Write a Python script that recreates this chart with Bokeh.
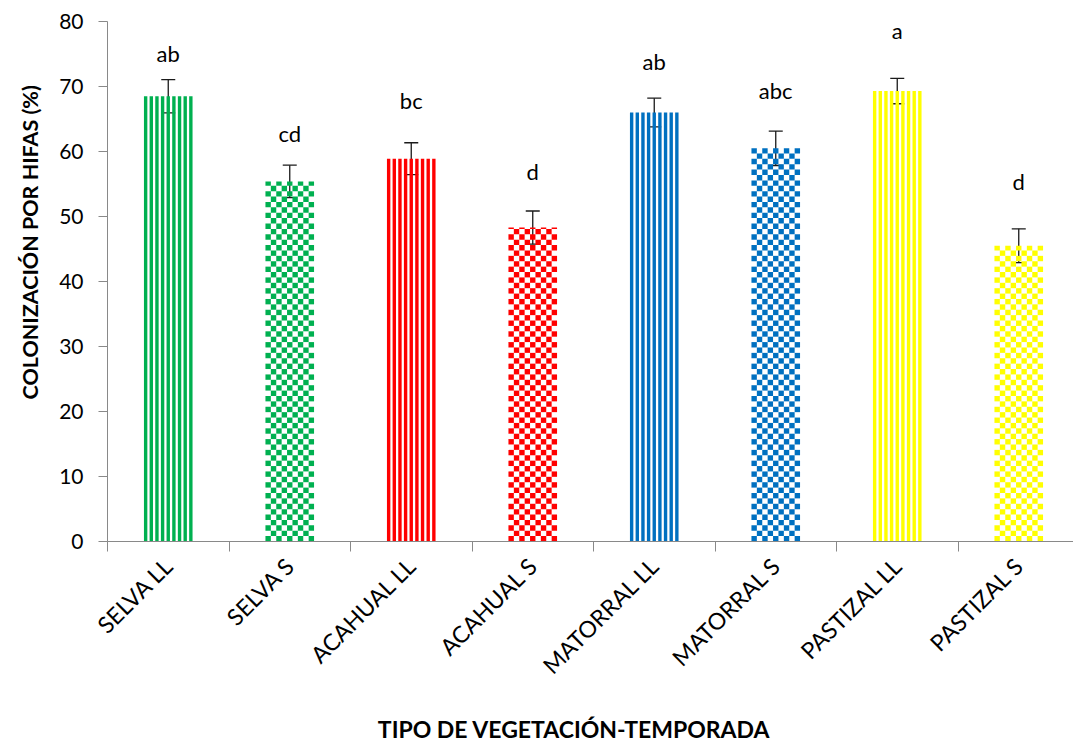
import math
import numpy as np
from bokeh.plotting import figure
from bokeh.models import Range1d, FixedTicker, Whisker, TeeHead, ColumnDataSource, Title
from bokeh.embed import file_html
from bokeh.resources import INLINE
from bokeh.core.properties import value

categories = ["SELVA LL", "SELVA S", "ACAHUAL LL", "ACAHUAL S",
              "MATORRAL LL", "MATORRAL S", "PASTIZAL LL", "PASTIZAL S"]
means = [68.5, 55.4, 58.9, 48.3, 66.0, 60.5, 69.3, 45.5]
errors = [2.55, 2.5, 2.45, 2.55, 2.2, 2.65, 1.95, 2.6]
letters = ["ab", "cd", "bc", "d", "ab", "abc", "a", "d"]
letter_y = [73.4, 61.1, 66.2, 55.3, 72.2, 67.7, 76.9, 53.7]
colors = ["#00B050", "#00B050", "#FF0000", "#FF0000",
          "#0070C0", "#0070C0", "#FFFF00", "#FFFF00"]
patterns = ["stripes", "checker", "stripes", "checker",
            "stripes", "checker", "stripes", "checker"]
y_ticks = [0, 10, 20, 30, 40, 50, 60, 70, 80]

FONT = "Lato"
W_FIG, H_FIG = 1073, 745
LEFT, TOP, BOTTOM = 107, 21, 203
cat_px = 121.5
frame_w = W_FIG - LEFT
frame_h = H_FIG - TOP - BOTTOM
x_end = frame_w / cat_px

p = figure(width=W_FIG, height=H_FIG, output_backend="svg", toolbar_location=None,
           x_range=Range1d(0, x_end), y_range=Range1d(0, 80),
           min_border_left=LEFT, min_border_right=0, min_border_top=TOP,
           min_border_bottom=BOTTOM)
p.outline_line_color = None
p.grid.visible = False

bar_w = 0.4
xc = np.arange(len(categories)) + 0.5
px_per_unit_y = frame_h / 80.0

# bar pattern cells
L, R, B, T, C = [], [], [], [], []
for i, (m, col, pat) in enumerate(zip(means, colors, patterns)):
    x0 = xc[i] - bar_w / 2
    if pat == "stripes":
        n = 9
        a = bar_w * 3.3 / 47.3
        per = (bar_w - a) / (n - 1)
        for k in range(n):
            L.append(x0 + k * per); R.append(x0 + k * per + a)
            B.append(0); T.append(m); C.append(col)
    else:
        nc = 9
        cw = bar_w / nc
        ch = cw * cat_px / px_per_unit_y
        nr = int(math.ceil(m / ch))
        for r in range(nr):
            for c in range(nc):
                if (r + c) % 2 == 0:
                    L.append(x0 + c * cw); R.append(x0 + (c + 1) * cw)
                    B.append(r * ch); T.append(min((r + 1) * ch, m)); C.append(col)

p.quad(left=L, right=R, bottom=B, top=T, fill_color=C, line_color=None)

# baseline correction for the SVG text rendering (pixels -> data units)
baseline_fix = 11.0 / px_per_unit_y
src = ColumnDataSource(dict(x=xc, m=means,
                            up=[m + e for m, e in zip(means, errors)],
                            lo=[m - e for m, e in zip(means, errors)],
                            lab=letters, ly=[v + baseline_fix for v in letter_y]))
wh = Whisker(base="x", upper="up", lower="lo", source=src,
             line_color="#1a1a1a", line_width=1.3,
             upper_head=TeeHead(size=14, line_color="#1a1a1a", line_width=1.3),
             lower_head=TeeHead(size=14, line_color="#1a1a1a", line_width=1.3))
p.add_layout(wh)

p.text(x="x", y="ly", text="lab", source=src, text_align="center",
       text_baseline="alphabetic", text_font=value(FONT), text_font_size="22px",
       text_color="#000000")

# axes
ax = p.xaxis[0]
ax.ticker = FixedTicker(ticks=list(xc), minor_ticks=list(range(len(categories) + 1)))
ax.major_label_overrides = {float(x): c for x, c in zip(xc, categories)}
ax.major_label_orientation = math.pi / 4
ax.major_tick_out = 0
ax.major_tick_in = 0
ax.minor_tick_out = 10
ax.minor_tick_in = 0
ax.minor_tick_line_color = "#898989"
ax.axis_line_color = "#898989"
ax.major_label_text_font = FONT
ax.major_label_text_font_size = "23px"
ax.major_label_text_color = "#000000"
ax.major_label_standoff = 10
ax.axis_label = "TIPO DE VEGETACIÓN-TEMPORADA" + "\u00a0" * 6
ax.axis_label_text_font = FONT
ax.axis_label_text_font_style = "bold"
ax.axis_label_text_font_size = "23px"
ax.axis_label_text_color = "#000000"
ax.axis_label_standoff = 23

ay = p.yaxis[0]
ay.ticker = FixedTicker(ticks=y_ticks, minor_ticks=[])
ay.major_tick_out = 9
ay.major_tick_in = 0
ay.major_tick_line_color = "#898989"
ay.axis_line_color = "#898989"
ay.major_label_text_font = FONT
ay.major_label_text_font_size = "21px"
ay.major_label_text_color = "#000000"
ay.major_label_standoff = 15

ytitle = Title(text="COLONIZACIÓN POR HIFAS (%)", align="left", offset=142,
               text_font=FONT, text_font_style="bold", text_font_size="21.5px",
               text_color="#000000", standoff=28)
p.add_layout(ytitle, "left")

open("out.html", "w").write(file_html(p, INLINE))
